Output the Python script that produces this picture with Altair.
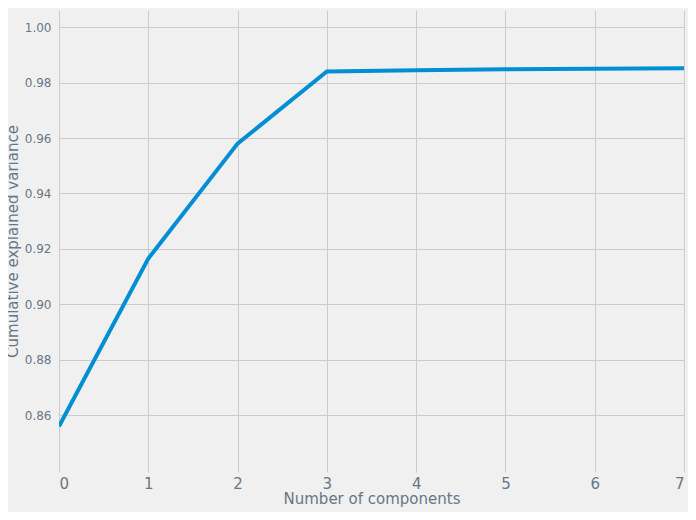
import altair as alt
import pandas as pd

components = [0, 1, 2, 3, 4, 5, 6, 7]
cum_var = [0.856, 0.9165, 0.958, 0.984, 0.9845, 0.9848, 0.985, 0.9852]
df = pd.DataFrame({"n": components, "v": cum_var})

chart = alt.Chart(df).mark_line(color="#008fd5", strokeWidth=4, clip=True).encode(
    x=alt.X("n:Q", title="Number of components", scale=alt.Scale(domain=[0, 7], nice=False),
            axis=alt.Axis(values=components, format="d", labelFontSize=15, titleFontSize=15,
                          titleFontWeight="normal", labelPadding=4, titlePadding=0)),
    y=alt.Y("v:Q", title="Cumulative explained variance",
            scale=alt.Scale(domain=[0.8395, 1.0062], nice=False, zero=False),
            axis=alt.Axis(values=[0.86, 0.88, 0.90, 0.92, 0.94, 0.96, 0.98, 1.00], format=".2f",
                          labelFontSize=12, titleFontSize=15, titleFontWeight="normal",
                          labelPadding=8, titlePadding=4)),
).properties(
    width=625, height=462, background="#f0f0f0",
    autosize=alt.AutoSizeParams(type="none"),
    padding={"left": 51, "top": 2, "right": 4, "bottom": 40},
).configure_view(stroke=None, fill="#f0f0f0").configure_axis(
    domain=False, ticks=False, gridColor="#cbcbcb", gridWidth=1,
    labelColor="#677786", titleColor="#677786", labelFont="DejaVu Sans", titleFont="DejaVu Sans",
)

chart.save("out.html", embed_options={"renderer": "svg", "actions": False})
